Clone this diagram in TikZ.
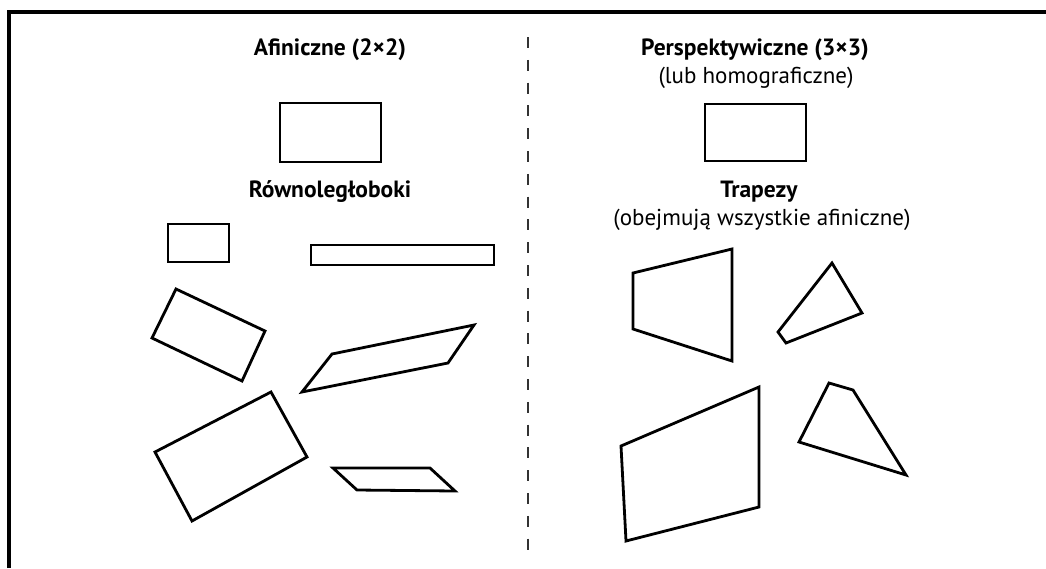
\documentclass[tikz,border=0pt]{standalone}
\usepackage{fontspec}
\setmainfont{PT Sans}
\begin{document}
\begin{tikzpicture}[x=1pt,y=-1pt,
  shp/.style={draw=black,line width=2.8pt,line join=miter},
  frame/.style={draw=black,line width=3.6pt},
  divider/.style={draw=black!80,line width=2.4pt,dash pattern=on 11pt off 11.8pt},
  ttl/.style={font=\fontsize{23.5}{27}\selectfont\bfseries,inner sep=0pt,anchor=base},
  sub/.style={font=\fontsize{23}{27}\selectfont,inner sep=0pt,anchor=base}]
\useasboundingbox (0,0) rectangle (1046,568);
% frame (top and left only)
\draw[frame] (9,568) -- (9,12) -- (1046,12);
% divider
\coordinate (dtop) at (528,37);
\coordinate (dbot) at (528,553);
\draw[divider] (dtop) -- (dbot);
% texts
\node[ttl] (aff) at (330,55) {Afiniczne (2×2)};
\node[ttl] (per) at (755,55) {Perspektywiczne (3×3)};
\node[sub] (hom) at (756,83) {(lub homograficzne)};
\node[ttl] (rown) at (330,197) {Równoległoboki};
\node[ttl] (trap) at (759,197) {Trapezy};
\node[sub] (obj) at (762,225) {(obejmują wszystkie afiniczne)};
% reference rectangles
\draw[shp] (280,103) rectangle (381,162);
\draw[shp] (705,104) rectangle (806,161);
% affine shapes
\draw[shp] (168,224) rectangle (229,262);
\draw[shp] (311,245) rectangle (494,265);
\draw[shp] (176,289) -- (265,331) -- (242,381) -- (152,338) -- cycle;
\draw[shp] (332,354) -- (474,325) -- (448,363) -- (302,392) -- cycle;
\draw[shp] (271,392) -- (307,457) -- (192,521) -- (155,452) -- cycle;
\draw[shp] (333,468) -- (430,468) -- (455,491) -- (357,490) -- cycle;
% perspective shapes
\draw[shp] (633,273) -- (732,249) -- (732,361) -- (633,329) -- cycle;
\draw[shp] (832,263) -- (862,313) -- (786,343) -- (778,332) -- cycle;
\draw[shp] (759,387) -- (759,507) -- (626,541) -- (621,446) -- cycle;
\draw[shp] (829,383) -- (853,390) -- (906,475) -- (799,442) -- cycle;
\end{tikzpicture}
\end{document}
